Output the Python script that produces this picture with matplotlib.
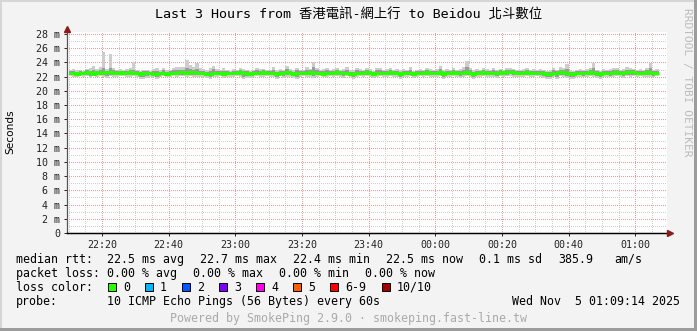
import numpy as np
import matplotlib
matplotlib.use('Agg')
import matplotlib.pyplot as plt
from matplotlib.patches import Rectangle

########## Data (ms, one value per 60 s step, first step starts 22:10) ##########
median = [22.5,22.5,22.4,22.5,22.5,22.6,22.5,22.4,22.6,22.5,
          22.5,22.6,22.6,22.5,22.5,22.6,22.5,22.5,22.6,22.5,
          22.5,22.4,22.5,22.5,22.5,22.4,22.4,22.5,22.5,22.4,
          22.5,22.5,22.5,22.6,22.6,22.5,22.6,22.6,22.5,22.5,
          22.5,22.4,22.4,22.5,22.5,22.5,22.4,22.5,22.5,22.5,
          22.5,22.6,22.5,22.5,22.4,22.5,22.5,22.5,22.6,22.5,
          22.5,22.5,22.4,22.5,22.5,22.6,22.5,22.4,22.5,22.5,
          22.5,22.5,22.6,22.5,22.5,22.5,22.4,22.5,22.5,22.5,
          22.6,22.5,22.5,22.5,22.4,22.4,22.5,22.5,22.5,22.6,
          22.5,22.4,22.5,22.5,22.5,22.5,22.6,22.5,22.5,22.4,
          22.5,22.5,22.5,22.4,22.5,22.5,22.5,22.6,22.5,22.5,
          22.5,22.6,22.4,22.5,22.5,22.6,22.5,22.5,22.5,22.6,
          22.5,22.4,22.5,22.5,22.6,22.5,22.5,22.5,22.5,22.6,
          22.5,22.6,22.7,22.6,22.5,22.5,22.5,22.6,22.5,22.5,
          22.5,22.5,22.5,22.4,22.4,22.5,22.5,22.6,22.6,22.5,
          22.4,22.4,22.5,22.5,22.5,22.5,22.6,22.5,22.5,22.4,
          22.5,22.5,22.5,22.5,22.6,22.5,22.5,22.6,22.6,22.6,
          22.5,22.5,22.5,22.6,22.5,22.5,22.5]

smoke_hi = [23.0,23.1,22.9,23.0,22.8,23.1,23.2,23.5,23.1,23.3,
            25.4,23.1,25.2,23.2,22.9,23.1,22.9,23.1,23.2,24.0,
            23.0,22.8,23.0,23.0,22.8,23.1,23.2,22.9,23.2,23.0,
            22.9,23.2,23.4,23.4,23.3,24.3,23.6,23.3,23.9,23.2,
            23.1,22.9,23.2,23.5,23.1,22.9,23.2,23.0,22.8,23.1,
            23.0,23.2,23.1,22.9,22.8,23.0,23.2,23.1,23.1,22.9,
            23.0,23.4,22.9,23.1,23.0,23.5,23.1,22.9,23.2,23.0,
            22.9,23.3,23.1,24.1,23.2,23.0,23.1,23.2,22.9,23.1,
            23.2,23.0,23.1,23.3,22.9,22.9,23.2,23.1,23.0,23.2,
            23.1,22.8,23.2,23.2,23.0,23.1,23.2,22.9,23.1,23.0,
            23.1,23.0,23.3,22.8,23.0,23.1,22.9,23.2,23.1,23.0,
            23.1,23.5,22.9,23.1,23.0,23.2,23.0,23.1,23.3,24.2,
            23.2,22.9,23.1,23.0,23.2,23.1,22.9,23.2,23.0,23.1,
            23.0,23.2,23.2,23.1,22.9,23.0,23.1,23.2,22.9,23.1,
            23.0,23.1,23.0,22.8,22.9,23.2,23.0,23.3,23.2,23.8,
            22.9,22.8,23.0,23.1,23.0,23.1,23.2,23.9,23.0,22.8,
            23.1,23.0,23.1,23.2,23.2,23.0,23.1,23.3,23.2,23.1,
            23.0,23.1,23.0,23.2,23.9,23.0,23.1]

smoke_lo = [22.1,22.0,21.9,22.1,22.0,22.1,21.8,22.1,22.0,22.1,
            22.0,21.8,22.1,22.0,21.9,22.1,22.1,22.0,22.0,22.1,
            22.0,21.7,21.7,21.8,22.0,21.9,21.6,22.0,22.1,22.0,
            22.0,22.1,22.0,22.1,22.1,22.0,22.1,22.0,22.0,21.9,
            22.0,21.8,21.7,22.0,22.0,22.1,21.8,22.0,21.9,22.0,
            22.1,22.0,21.7,21.8,21.8,22.0,22.1,22.0,21.9,22.1,
            22.0,21.9,21.7,22.1,21.8,22.0,22.0,21.8,21.7,21.9,
            22.1,22.0,22.0,21.8,22.0,22.1,21.9,21.9,22.1,22.0,
            22.1,22.0,21.8,22.1,21.9,21.7,22.0,22.1,22.0,22.1,
            22.0,21.8,22.0,22.1,21.9,22.0,22.1,22.0,21.9,21.7,
            22.0,22.0,22.1,21.8,22.0,22.1,22.0,22.1,21.9,22.0,
            22.0,22.1,21.7,22.0,21.9,22.1,22.0,21.8,22.0,22.1,
            22.0,21.7,22.0,22.0,22.1,22.0,21.9,22.0,21.8,22.1,
            22.0,22.1,22.1,21.9,22.0,22.0,22.0,22.1,22.0,22.0,
            22.1,22.0,21.8,21.6,21.6,22.0,21.7,22.1,22.0,21.8,
            21.7,21.6,22.0,22.0,21.9,22.0,22.1,22.0,21.8,21.7,
            22.0,22.0,21.9,22.0,22.1,22.0,21.8,22.1,22.0,22.1,
            22.0,22.1,22.0,22.0,22.0,21.9,22.1]

inner_hi = [22.8,22.8,22.7,22.8,22.7,22.9,22.8,23.0,22.8,22.9,
            23.2,22.8,23.2,22.9,22.8,22.8,22.8,22.8,22.9,23.0,
            22.8,22.7,22.8,22.8,22.7,22.8,22.8,22.7,22.9,22.7,
            22.8,22.9,23.0,23.0,22.9,23.2,23.1,22.9,23.1,22.8,
            22.8,22.7,22.8,23.1,22.8,22.8,22.8,22.8,22.7,22.8,
            22.8,22.9,22.8,22.8,22.7,22.8,22.9,22.8,22.9,22.8,
            22.8,23.0,22.7,22.8,22.8,23.1,22.8,22.7,22.9,22.8,
            22.8,22.9,22.9,23.4,22.9,22.8,22.8,22.9,22.8,22.8,
            22.9,22.8,22.8,22.9,22.7,22.7,22.9,22.8,22.8,22.9,
            22.8,22.7,22.9,22.9,22.8,22.8,22.9,22.8,22.8,22.7,
            22.8,22.8,23.0,22.7,22.8,22.8,22.8,22.9,22.8,22.8,
            22.8,23.1,22.7,22.8,22.8,22.9,22.8,22.8,23.0,23.4,
            22.9,22.7,22.8,22.8,22.9,22.8,22.8,22.9,22.8,22.9,
            22.8,22.9,23.0,22.9,22.8,22.8,22.8,22.9,22.8,22.8,
            22.8,22.8,22.8,22.7,22.7,22.9,22.8,23.0,22.9,23.1,
            22.7,22.7,22.8,22.8,22.8,22.8,22.9,23.2,22.8,22.7,
            22.8,22.8,22.8,22.9,22.9,22.8,22.8,23.0,22.9,22.9,
            22.8,22.8,22.8,22.9,23.2,22.8,22.8]

inner_lo = [22.3,22.2,22.2,22.3,22.2,22.3,22.1,22.2,22.3,22.3,
            22.2,22.1,22.3,22.2,22.2,22.3,22.3,22.2,22.3,22.3,
            22.2,22.0,22.0,22.1,22.2,22.1,21.9,22.2,22.3,22.2,
            22.2,22.3,22.2,22.3,22.3,22.2,22.3,22.3,22.2,22.2,
            22.2,22.1,22.0,22.2,22.2,22.3,22.1,22.2,22.2,22.2,
            22.3,22.2,22.0,22.1,22.1,22.2,22.3,22.2,22.2,22.3,
            22.2,22.2,22.0,22.3,22.1,22.3,22.2,22.1,22.0,22.2,
            22.3,22.2,22.3,22.1,22.2,22.3,22.1,22.2,22.3,22.2,
            22.3,22.2,22.1,22.3,22.1,22.0,22.2,22.3,22.2,22.3,
            22.2,22.1,22.2,22.3,22.2,22.2,22.3,22.2,22.2,22.0,
            22.2,22.2,22.3,22.1,22.2,22.3,22.2,22.3,22.2,22.2,
            22.2,22.3,22.0,22.2,22.2,22.3,22.2,22.1,22.2,22.3,
            22.2,22.0,22.2,22.2,22.3,22.2,22.2,22.2,22.1,22.3,
            22.2,22.3,22.4,22.2,22.2,22.2,22.2,22.3,22.2,22.2,
            22.3,22.2,22.1,21.9,21.9,22.2,22.0,22.3,22.2,22.1,
            22.0,21.9,22.2,22.2,22.1,22.2,22.3,22.2,22.1,22.0,
            22.2,22.2,22.1,22.2,22.3,22.2,22.1,22.3,22.2,22.3,
            22.2,22.3,22.2,22.2,22.2,22.1,22.3]

x_tick_labels = ['22:20', '22:40', '23:00', '23:20', '23:40', '00:00', '00:20', '00:40', '01:00']
loss_names = ['0', '1', '2', '3', '4', '5', '6-9', '10/10']
loss_colors = ['#26ff00', '#00b8ff', '#0059ff', '#7e00ff', '#ff00ea', '#ff5f00', '#ff0000', '#a10000']

title = 'Last 3 Hours from 香港電訊-網上行 to Beidou 北斗數位'

########## Layout ##########
W , H = 697 , 331
BG = '#f3f3f3'
MONO = 'DejaVu Sans Mono'

def fx(px):
    return px / W

def fy(py):
    return (H - py) / H

fig = plt.figure(figsize = [W / 100 , H / 100] , dpi = 100 , facecolor = BG)
ax = fig.add_axes([fx(67) , fy(233) , 600 / W , (233 - 31.5) / H])
ax.set_facecolor('white')

# minutes since 22:09:30, first rrd step starts at 22:10
t_start = 0.5
edges = t_start + np.arange(len(median) + 1)

ax.stairs(smoke_hi , edges , baseline = smoke_lo , fill = True , color = '#cdcdcd' , zorder = 2)
ax.stairs(inner_hi , edges , baseline = inner_lo , fill = True , color = '#9b9b9b' , zorder = 3)
ax.stairs(median , edges , baseline = None , color = '#26ff00' , lw = 2.2 , zorder = 4)

ax.set_xlim(0 , 180)
ax.set_ylim(0 , 28.35)

ax.set_xticks(10.5 + 20 * np.arange(len(x_tick_labels)))
ax.set_xticklabels(x_tick_labels)
ax.set_xticks(0.5 + 5 * np.arange(36) , minor = True)
y_major = np.arange(0 , 29 , 2)
ax.set_yticks(y_major)
ax.set_yticklabels(['0' if v == 0 else '%d m' % v for v in y_major])
ax.set_yticks(np.arange(0 , 29 , 1) , minor = True)

ax.grid(which = 'minor' , color = '#cfcfcf' , lw = 0.72 , ls = (0 , (1 , 2)) , antialiased = False)
ax.grid(which = 'major' , color = '#ea9a9a' , lw = 0.72 , ls = (0 , (1 , 2)) , antialiased = False)
ax.set_axisbelow(True)

ax.tick_params(which = 'major' , length = 2 , width = 0.7 , pad = 3 , labelsize = 7.2 , colors = '#222222')
ax.tick_params(which = 'minor' , length = 0)
for lab in ax.get_xticklabels() + ax.get_yticklabels():
    lab.set_family(MONO)

for s in ['top' , 'right']:
    ax.spines[s].set_visible(False)
ax.spines['left'].set_color('#555555')
ax.spines['bottom'].set_color('#000000')
ax.spines['left'].set_linewidth(0.9)
ax.spines['bottom'].set_linewidth(0.9)
ax.spines['left'].set_bounds(0 , 28.35)

# axis arrows
ax.plot([0] , [1.013] , marker = '^' , ms = 4.5 , color = '#8b1a1a' , mec = '#8b1a1a' ,
        transform = ax.transAxes , clip_on = False , zorder = 10)
ax.plot([1.005] , [0] , marker = '>' , ms = 4.5 , color = '#8b1a1a' , mec = '#8b1a1a' ,
        transform = ax.transAxes , clip_on = False , zorder = 10)
ax.plot([0 , 1.0] , [0 , 0] , color = '#000000' , lw = 0.9 , transform = ax.transAxes , clip_on = False , zorder = 9)

########## Texts ##########
fig.text(fx(348.5) , fy(15) , title , ha = 'center' , va = 'center' , fontsize = 9.6 ,
         family = [MONO , 'Noto Sans CJK TC'] , color = '#000000')
fig.text(fx(10) , fy(132) , 'Seconds' , rotation = 90 , ha = 'center' , va = 'center' ,
         fontsize = 7.6 , family = 'DejaVu Sans' , color = '#000000')
fig.text(fx(687) , fy(8) , 'RRDTOOL / TOBI OETIKER' , rotation = 270 , ha = 'center' , va = 'top' ,
         fontsize = 8.0 , family = MONO , color = '#bcbcbc')

fs = 8.4
def legend_text(x , y , s , color = '#000000'):
    fig.text(fx(x) , fy(y) , s , ha = 'left' , va = 'baseline' , fontsize = fs , family = MONO , color = color)

legend_text(16 , 263 , 'median rtt:')
for x , s in zip([107 , 200 , 293 , 386 , 479 , 558 , 614] ,
                 ['22.5 ms avg' , '22.7 ms max' , '22.4 ms min' , '22.5 ms now' , '0.1 ms sd' , '385.9' , 'am/s']):
    legend_text(x , 263 , s)

legend_text(16 , 277 , 'packet loss:')
for x , s in zip([107 , 193 , 279 , 365] , ['0.00 % avg' , '0.00 % max' , '0.00 % min' , '0.00 % now']):
    legend_text(x , 277 , s)

legend_text(16 , 291 , 'loss color:')
box_x = [108 , 145 , 182 , 219 , 256 , 293 , 330 , 382]
for x , name , c in zip(box_x , loss_names , loss_colors):
    fig.add_artist(Rectangle((fx(x) , fy(291)) , 8 / W , 8 / H , transform = fig.transFigure ,
                             facecolor = c , edgecolor = '#000000' , lw = 0.7))
    legend_text(x + 15 , 291 , name)

legend_text(16 , 305 , 'probe:')
legend_text(107 , 305 , '10 ICMP Echo Pings (56 Bytes) every 60s')
fig.text(fx(680) , fy(305) , 'Wed Nov  5 01:09:14 2025' , ha = 'right' , va = 'baseline' ,
         fontsize = fs , family = MONO , color = '#000000')

fig.text(fx(349) , fy(322) , 'Powered by SmokePing 2.9.0 · smokeping.fast-line.tw' , ha = 'center' ,
         va = 'baseline' , fontsize = fs , family = MONO , color = '#aaaaaa')

########## Frame ##########
fig.add_artist(Rectangle((0 , fy(2)) , 1 , 2 / H , transform = fig.transFigure , color = '#d6d6d6' , lw = 0))
fig.add_artist(Rectangle((0 , 0) , 2 / W , 1 , transform = fig.transFigure , color = '#d6d6d6' , lw = 0))
fig.add_artist(Rectangle((0 , 0) , 1 , 3 / H , transform = fig.transFigure , color = '#9c9c9c' , lw = 0))
fig.add_artist(Rectangle((fx(694) , 0) , 3 / W , 1 , transform = fig.transFigure , color = '#9c9c9c' , lw = 0))

fig.savefig('out.png' , dpi = 100 , facecolor = BG)
